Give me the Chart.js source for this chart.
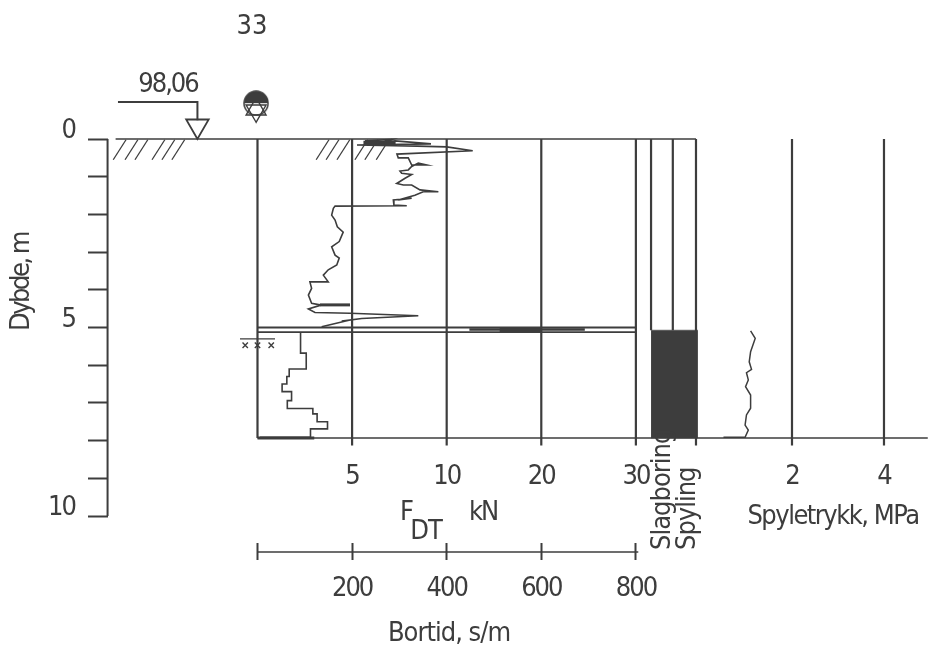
<!DOCTYPE html>
<html><head><meta charset="utf-8">
<style>html,body{margin:0;padding:0;background:#fff}canvas{display:block}</style>
<script src="https://cdn.jsdelivr.net/npm/chart.js@4/dist/chart.umd.min.js"></script>
</head><body><canvas id="c" width="928" height="652"></canvas>
<script>
// ---- data ----
const forceKN = [5.68,7.11,6.47,7.27,9.17,5.26,8.43,10,12.75,7.37,7.44,7.97,8.15,8.94,8.5,8.15,7.97,7.53,7.62,8.15,7.8,7.36,7.71,8.15,8.59,9.56,8.76,8.32,7.44,8.15,7.18,7.21,7.89,4.1,4.01,3.92,4.1,4.22,4.53,4.32,3.92,4.1,4.32,4.19,3.74,3.48,3.74,2.77,2.86,2.69,2.86,3.3,4.89,3.39,2.69,3.04,4.89,8.5,5.51,4.45,4.89,3.39];
const forceDepth = [.05,.01,.11,.05,.13,.16,.19,.21,.31,.4,.5,.5,.69,.69,.64,.73,.82,.85,.91,.94,1.04,1.18,1.22,1.22,1.35,1.4,1.4,1.49,1.62,1.57,1.62,1.75,1.77,1.78,1.84,2.02,2.15,2.33,2.47,2.72,2.86,3.08,3.16,3.34,3.47,3.61,3.79,3.79,3.96,4.14,4.36,4.4,4.4,4.4,4.51,4.6,4.62,4.69,4.76,4.83,4.8,4.98];
const surfaceForce = [5.6,7.3];
const surfaceDepth = .1;
const shelfForce = [3.3,4.89];
const shelfDepth = 4.4;
const peakForce = [12.4,24.6];
const peakCore = [15.6,20];
const peakDepth = 5.05;
const timeValues = [91,103,67,62,52,72,63,117,126,148,112,5];
const timeDepth = [5.12,5.68,6.1,6.3,6.5,6.7,6.94,7.15,7.29,7.5,7.69,7.91];
const pressure = [1.1,1.2,1.1,1.07,1.12,1.01,1.05,.99,1.1,1.1,1.01,.98,1.05,.98,.51];
const pressureDepth = [5.09,5.29,5.64,5.91,6.11,6.2,6.39,6.57,6.79,7.14,7.32,7.59,7.72,7.91,7.91];
const forceTicks = [0,5,10,20,30];
const forceTickPlaces = [0,5,10,15,20];
const timeTicks = [0,200,400,600,800];
const pressureTicks = [2,4];
const depthTicks = [0,1,2,3,4,5,6,7,8,9,10];
const depthLabels = [0,5,10];
const baseDepth = 7.93;
const bandTop = 5.0, bandBottom = 5.12;
const flushStart = 5.07;
const columnEdges = [832,878,927];
const elevation = '98,06';
const hatchStarts = [-305,-280,-259,-223,-202,-181,124,145,168,206,227,251];
const frostMarks = [-26,0,29];

// ---- piecewise force scale (0,5,10,20,30 are evenly spaced on the sheet) ----
class ForceScale extends Chart.LinearScale {
  static id = 'force';
  static defaults = {};
  getPixelForValue(v){
    if (v === null || v === undefined) return NaN;
    let i = 1;
    while (i < forceTicks.length-1 && v > forceTicks[i]) i++;
    const t = (v-forceTicks[i-1])/(forceTicks[i]-forceTicks[i-1]);
    return super.getPixelForValue(forceTickPlaces[i-1]+t*(forceTickPlaces[i]-forceTickPlaces[i-1]));
  }
}
Chart.register(ForceScale);

const INK = '#3d3d3d';
const big = {family:'"DejaVu Sans"',size:27,weight:'condensed'};

function line(xs,ys,xAxisID,w,extra){
  return Object.assign({
    data: xs.map((x,i)=>({x,y:ys[i]})), xAxisID, yAxisID:'y',
    borderColor:INK, backgroundColor:INK, borderWidth:w, pointRadius:0, tension:0, fill:false
  },extra||{});
}
function marks(xs,ys,xAxisID,style,r,w,rot,bg){
  return {data:xs.map((x,i)=>({x,y:ys[i]})),xAxisID,yAxisID:'y',showLine:false,
    pointStyle:style,pointRadius:r,pointBorderWidth:w,pointRotation:rot||0,
    pointBorderColor:INK,pointBackgroundColor:bg||'rgba(0,0,0,0)',borderColor:INK};
}
const half = document.createElement('canvas'); half.width=half.height=26;
{const g=half.getContext('2d');g.fillStyle=INK;g.beginPath();g.arc(13,13,12,Math.PI,0);g.fill();
 g.strokeStyle=INK;g.lineWidth=1.5;g.beginPath();g.arc(13,13,12,0,Math.PI*2);g.stroke();}

const datasets = [
  ...forceTicks.map(f=>line([f,f],[0,baseDepth+(f===0?0:.2)],'xF',2.2)),
  ...pressureTicks.map(p=>line([p,p],[0,baseDepth+.2],'xP',2.2)),
  ...columnEdges.map((c,i)=>line([c,c],[0,i===2?baseDepth+.2:flushStart],'xB',2.2)),
  line([columnEdges[0],columnEdges[2]+4],[flushStart,flushStart],'xB',.5,{fill:'+1',backgroundColor:INK}),
  line([columnEdges[0],columnEdges[2]+4],[baseDepth,baseDepth],'xB',.5),
  line([-300,columnEdges[2]],[0,0],'xB',1.4),
  line([0,1417],[baseDepth,baseDepth],'xB',1.6),
  line([0,800],[bandTop,bandTop],'xB',1.8),
  line([0,800],[bandBottom,bandBottom],'xB',1.8),
  ...hatchStarts.map(h=>line([h,h+27],[.55,.02],'xB',1.3)),
  line([-317,-317],[0,10],'xB',2),
  line([0,805],[10.955,10.955],'xB',1.5),
  line([-295,-127,-127],[-.98,-.98,-.5],'xB',2),
  marks([-127],[-.345],'xB','triangle',13,1.8,180,'#fff'),
  marks([-3],[-.95],'xB',half,13,1),
  marks([-3],[-.79],'xB','triangle',11.5,1.4,0),
  marks([-3],[-.75],'xB','triangle',11.5,1.4,180),
  line([-37,37],[5.3,5.3],'xB',1.2),
  marks(frostMarks,frostMarks.map(()=>5.47),'xB','crossRot',3.8,1.4),
  line(forceKN,forceDepth,'xF',1.6,{label:'F_DT'}),
  line(surfaceForce,[surfaceDepth,surfaceDepth],'xF',4),
  line(shelfForce,[shelfDepth,shelfDepth],'xF',3),
  line(peakForce,[peakDepth,peakDepth],'xF',2.5),
  line(peakCore,[peakDepth,peakDepth],'xF',5),
  line(timeValues,timeDepth,'xB',1.6,{label:'Bortid',stepped:'after'}),
  line(pressure,pressureDepth,'xP',1.5,{label:'Spyletrykk'}),
  line([0,120],[baseDepth,baseDepth],'xB',3)
];

const notes = {
  id:'notes',
  beforeDraw(ch){ ch.ctx.letterSpacing='-2px'; },
  afterDraw(ch){
    const g=ch.ctx; g.save(); g.fillStyle=INK; g.textAlign='center'; g.textBaseline='middle';
    g.font='condensed 27px "DejaVu Sans"';
    const put=(text,x,y,sp)=>{g.letterSpacing=sp+'px';g.fillText(text,x,y);};
    put('33',252,27,0);
    put(elevation,168,85,-2);
    put('kN',483,513,-2);
    put('F',407,513,0);
    put('DT',426,532,-1);
    put('Bortid, s/m',449,634,-1);
    put('Spyletrykk, MPa',833,517,-1.5);
    g.save();g.translate(22,282);g.rotate(-Math.PI/2);put('Dybde, m',0,0,-2.5);g.restore();
    g.textAlign='left';
    g.save();g.translate(663,550);g.rotate(-Math.PI/2);put('Slagboring',0,0,-1);g.restore();
    g.save();g.translate(688,550);g.rotate(-Math.PI/2);put('Spyling',0,0,-1);g.restore();
    g.restore();
  }
};

const setTicks = list => s => { s.ticks = list.map(value=>({value})); };
const noPad = s => { s.paddingTop=s.paddingBottom=s.paddingLeft=s.paddingRight=0; };
const noGrid = {display:false};
new Chart(document.getElementById('c'),{
  type:'line',
  data:{datasets},
  plugins:[notes],
  options:{
    responsive:false,animation:false,
    layout:{padding:0,autoPadding:false},
    plugins:{legend:{display:false},tooltip:{enabled:false}},
    scales:{
      y:{axis:'y',type:'linear',reverse:true,min:-3.687,max:13.607,
        position:{xB:-317},
        afterBuildTicks:setTicks(depthTicks),afterFit:noPad,
        border:{display:false},
        grid:{drawOnChartArea:false,tickLength:20,tickWidth:2,tickColor:INK},
        ticks:{display:false}},
      yLabels:{axis:'y',type:'linear',reverse:true,min:-3.687,max:13.607,
        position:{xB:-386},
        afterBuildTicks:setTicks(depthLabels),afterFit:noPad,
        border:{display:false},
        grid:noGrid,
        ticks:{autoSkip:false,font:big,color:INK,labelOffset:-8}},
      xB:{axis:'x',type:'linear',min:-544.4,max:1417.5,
        position:{y:10.72},
        afterBuildTicks:setTicks(timeTicks),afterFit:noPad,
        border:{display:false},
        grid:{drawOnChartArea:false,tickLength:17,tickWidth:2,tickColor:INK},
        ticks:{autoSkip:false,maxRotation:0,minRotation:0,font:big,color:INK,padding:13,
          callback:v=>v===0?'':String(v)}},
      xF:{axis:'x',type:'force',min:-13.61,max:35.44,
        position:{y:baseDepth},
        afterBuildTicks:setTicks(forceTicks),afterFit:noPad,
        border:{display:false},
        grid:noGrid,
        ticks:{autoSkip:false,maxRotation:0,minRotation:0,font:big,color:INK,padding:15,
          callback:v=>v===0?'':String(v)}},
      xP:{axis:'x',type:'linear',min:-15.22,max:4.957,
        position:{y:baseDepth},
        afterBuildTicks:setTicks(pressureTicks),afterFit:noPad,
        border:{display:false},
        grid:noGrid,
        ticks:{autoSkip:false,maxRotation:0,minRotation:0,font:big,color:INK,padding:15}}
    }
  }
});
</script></body></html>
